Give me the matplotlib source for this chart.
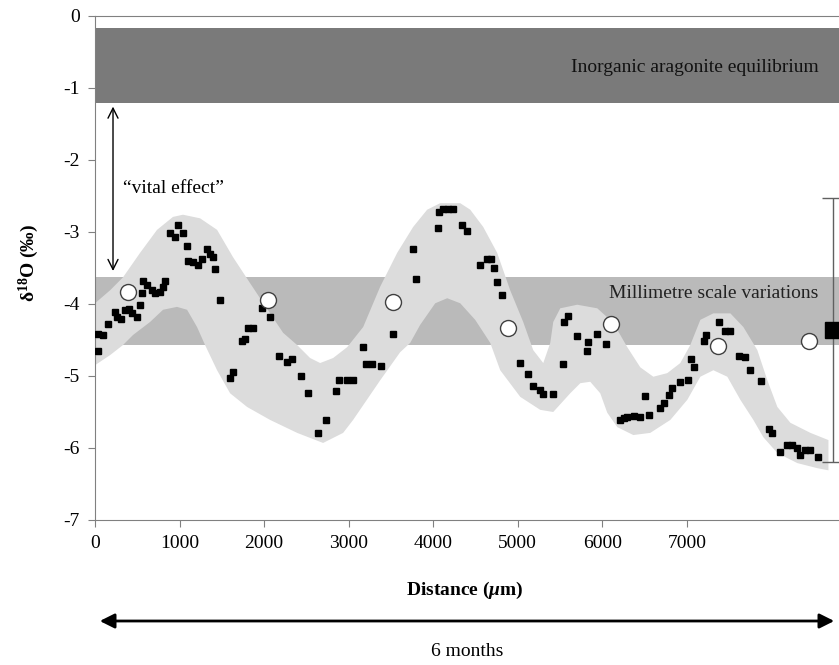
import numpy as np
import matplotlib
matplotlib.use("Agg")
import matplotlib.pyplot as plt

plt.rcParams['font.family'] = ['Liberation Serif', 'DejaVu Serif']
plt.rcParams['mathtext.fontset'] = 'custom'
plt.rcParams['mathtext.rm'] = 'Liberation Serif:bold'
plt.rcParams['mathtext.bf'] = 'Liberation Serif:bold'
plt.rcParams['mathtext.it'] = 'Liberation Serif:italic:bold'
plt.rcParams['axes.unicode_minus'] = False

## data
# laser-ablation profile (black squares)
sq_x = [39, 91, 39, 157, 237, 257, 304, 355, 406, 434,
        493, 533, 553, 572, 619, 671, 710, 769, 801, 828,
        888, 947, 986, 1045, 1092, 1104, 1163, 1222, 1263, 1322,
        1361, 1400, 1420, 1479, 1598, 1630, 1736, 1775, 1814, 1866,
        1973, 2071, 2178, 2268, 2328, 2438, 2524, 2643, 2730, 2848,
        2891, 2979, 3057, 3175, 3207, 3274, 3385, 3523, 3767, 3799,
        4059, 4063, 4118, 4178, 4237, 4339, 4402, 4548, 4635, 4686,
        4716, 4757, 4817, 5030, 5116, 5180, 5258, 5302, 5416, 5535,
        5550, 5594, 5698, 5817, 5828, 5937, 6044, 6205, 6252, 6292,
        6370, 6444, 6509, 6548, 6680, 6726, 6785, 6825, 6915, 7010,
        7050, 7089, 7207, 7231, 7376, 7456, 7515, 7613, 7684, 7743,
        7882, 7968, 8008, 8098, 8186, 8245, 8304, 8343, 8402, 8462, 8553]
sq_y = [-4.42, -4.43, -4.65, -4.28, -4.11, -4.18, -4.21, -4.08, -4.07, -4.12,
        -4.18, -4.01, -3.85, -3.68, -3.74, -3.81, -3.85, -3.84, -3.76, -3.68,
        -3.02, -3.07, -2.90, -3.02, -3.20, -3.40, -3.41, -3.46, -3.37, -3.24,
        -3.30, -3.35, -3.52, -3.95, -5.03, -4.94, -4.51, -4.48, -4.34, -4.34,
        -4.05, -4.18, -4.72, -4.80, -4.77, -5.00, -5.24, -5.79, -5.61, -5.21,
        -5.06, -5.06, -5.06, -4.60, -4.84, -4.84, -4.86, -4.42, -3.24, -3.65,
        -2.94, -2.72, -2.68, -2.68, -2.68, -2.90, -2.99, -3.46, -3.38, -3.38,
        -3.50, -3.69, -3.87, -4.82, -4.97, -5.14, -5.19, -5.25, -5.25, -4.84,
        -4.25, -4.16, -4.44, -4.65, -4.53, -4.41, -4.56, -5.61, -5.59, -5.57,
        -5.55, -5.57, -5.28, -5.54, -5.45, -5.38, -5.26, -5.16, -5.08, -5.05,
        -4.77, -4.88, -4.52, -4.43, -4.25, -4.38, -4.38, -4.72, -4.74, -4.91,
        -5.07, -5.74, -5.79, -6.05, -5.96, -5.96, -6.00, -6.10, -6.03, -6.03, -6.13]

# micromill samples (open circles)
circ_x = [387, 2044, 3530, 4885, 6104, 7365, 8441]
circ_y = [-3.83, -3.94, -3.97, -4.34, -4.28, -4.59, -4.52]

# mean and range of the profile
mean_x = 8730
mean_y = -4.36
mean_err = 1.83

# grey envelope around the profile
env_up_x = [0, 178, 331, 533, 734, 923, 1041, 1243, 1444, 1633, 1834, 2071, 2225, 2391,
            2544, 2663, 2817, 2982, 3172, 3373, 3574, 3763, 3929, 4083, 4320, 4438, 4592,
            4757, 4911, 5065, 5183, 5302, 5385, 5420, 5503, 5704, 5941, 6130, 6296, 6450,
            6604, 6769, 6923, 7041, 7160, 7314, 7515, 7669, 7834, 7953, 8071, 8225, 8462, 8675]
env_up_y = [-3.99, -3.81, -3.63, -3.29, -2.97, -2.79, -2.76, -2.81, -2.97, -3.35, -3.71, -4.13,
            -4.40, -4.57, -4.75, -4.82, -4.75, -4.60, -4.32, -3.76, -3.29, -2.93, -2.69, -2.60,
            -2.60, -2.69, -2.93, -3.29, -3.81, -4.25, -4.64, -4.82, -4.54, -4.25, -4.06, -4.01,
            -4.06, -4.26, -4.60, -4.88, -5.01, -4.96, -4.82, -4.57, -4.22, -4.13, -4.13, -4.32,
            -4.64, -5.06, -5.43, -5.65, -5.79, -5.89]
env_lo_x = [0, 178, 331, 450, 651, 805, 970, 1089, 1207, 1302, 1444, 1598, 1799, 2071, 2391,
            2698, 2935, 3053, 3373, 3609, 3728, 3846, 4024, 4166, 4320, 4497, 4675, 4793, 5030,
            5266, 5420, 5621, 5740, 5858, 5976, 6059, 6178, 6367, 6568, 6805, 7006, 7160, 7314,
            7479, 7633, 7787, 7905, 8071, 8308, 8544, 8675]
env_lo_y = [-4.85, -4.71, -4.57, -4.43, -4.25, -4.08, -4.04, -4.08, -4.32, -4.57, -4.92, -5.24,
            -5.43, -5.61, -5.79, -5.93, -5.79, -5.61, -5.06, -4.67, -4.54, -4.29, -3.99, -3.92,
            -3.99, -4.22, -4.54, -4.92, -5.29, -5.47, -5.50, -5.24, -5.10, -5.08, -5.24, -5.51,
            -5.71, -5.82, -5.79, -5.61, -5.33, -5.01, -4.92, -5.01, -5.33, -5.61, -5.85, -6.07,
            -6.21, -6.28, -6.31]

# horizontal reference bands
equil_band = (-1.21, -0.17)
mm_band = (-4.57, -3.62)

x_ticks = [0, 1000, 2000, 3000, 4000, 5000, 6000, 7000]
y_ticks = [-7, -6, -5, -4, -3, -2, -1, 0]

## figure
W, H = 839, 665
fig = plt.figure(figsize=(W / 100, H / 100), dpi=100)
ax = fig.add_axes([95 / W, 1 - 520 / H, 744 / W, 504 / H])

ax.axhspan(*equil_band, color='#7a7a7a', lw=0, zorder=1)
ax.axhspan(*mm_band, color='#bababa', lw=0, zorder=1)

env_x = np.concatenate([env_up_x, env_lo_x[::-1]])
env_y = np.concatenate([env_up_y, env_lo_y[::-1]])
ax.fill(env_x, env_y, color='#dcdcdc', lw=0, zorder=2)

ax.plot(sq_x, sq_y, 's', color='black', ms=5, zorder=4)
ax.plot(circ_x, circ_y, 'o', mfc='white', mec='#404040', mew=1, ms=11.5, zorder=5)
ax.errorbar([mean_x], [mean_y], yerr=[mean_err], fmt='s', color='black', ms=12,
            ecolor='#606060', elinewidth=1, capsize=8, capthick=1, zorder=5)

ax.text(8556, -0.71, 'Inorganic aragonite equilibrium', ha='right', va='center',
        fontsize=14, color='#111111', zorder=6)
ax.text(8556, -3.85, 'Millimetre scale variations', ha='right', va='center',
        fontsize=14, color='#222222', zorder=6)
ax.text(331, -2.39, '\u201cvital effect\u201d', ha='left', va='center', fontsize=14, zorder=6)
ax.annotate('', xy=(213, -1.22), xytext=(213, -3.58),
            arrowprops=dict(arrowstyle='<->', color='black', lw=1, mutation_scale=18), zorder=6)

ax.set_xlim(0, 8800)
ax.set_ylim(-7, 0)
ax.set_xticks(x_ticks)
ax.set_yticks(y_ticks)
ax.tick_params(labelsize=14, direction='out', length=5, color='#808080', pad=6)
for side in ['left', 'bottom', 'top']:
    ax.spines[side].set_color('#808080')
ax.spines['right'].set_visible(False)

ax.set_ylabel(r'$\mathrm{\delta^{18}}$O (‰)', fontsize=14, fontweight='bold')
ax.yaxis.set_label_coords(-0.072, 0.51)

fig.text(465 / W, 1 - 590 / H, r'Distance ($\mu$m)', ha='center', va='center',
         fontsize=14, fontweight='bold')
fig.patches.append(matplotlib.patches.FancyArrowPatch(
    (97 / W, 1 - 621 / H), (837 / W, 1 - 621 / H), transform=fig.transFigure,
    arrowstyle='<|-|>', mutation_scale=22, color='black', lw=2))
fig.text(467 / W, 1 - 652 / H, '6 months', ha='center', va='center', fontsize=14)

fig.savefig('out.png', dpi=100)
